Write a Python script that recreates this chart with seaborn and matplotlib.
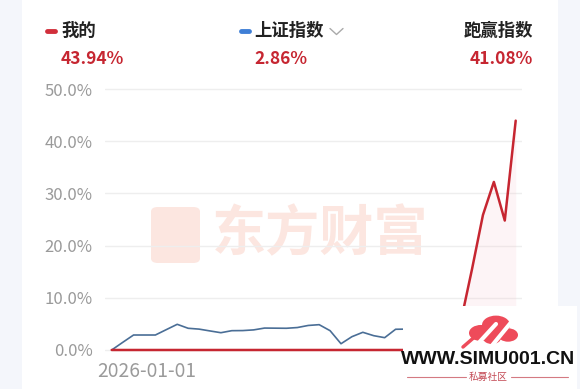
import numpy as np
import pandas as pd
import matplotlib
matplotlib.use("Agg")
import matplotlib.pyplot as plt
import matplotlib.transforms as mtransforms
from matplotlib.patches import Rectangle, FancyBboxPatch, Circle
from matplotlib.lines import Line2D
import seaborn as sns

# ---------------- data ----------------
my_returns = [0, 0, 0, 0, 0, 0, 0, 0, 0, 0,
              0, 0, 0, 0, 0, 0, 0, 0, 0, 0,
              0, 0, 0, 0, 0, 0, 0, 0, 0, 0,
              0, 0, 5.7, 15.5, 25.86, 32.2, 24.8, 43.94]
sh_index = [0, 1.45, 2.87, 2.87, 2.87, 3.9, 4.92, 4.16, 4.0, 3.65,
            3.31, 3.70, 3.72, 3.85, 4.2, 4.18, 4.16, 4.3, 4.7, 4.85,
            3.70, 1.2, 2.55, 3.39, 2.74, 2.36, 3.97, 4.0, 3.8, 3.5,
            3.9, 3.6, 3.2, 3.4, 3.0, 3.3, 3.1, 2.86]
y_ticks = [0, 10, 20, 30, 40, 50]
y_tick_labels = ["0.0%", "10.0%", "20.0%", "30.0%", "40.0%", "50.0%"]
x_tick_label = "2026-01-01"
legend_names = ["我的", "上证指数", "跑赢指数"]
legend_values = ["43.94%", "2.86%", "41.08%"]

RED = "#c62631"
BLUE = "#4a6e96"
GRAY = "#9a9a9a"

sns.set_theme(style="white")
plt.rcParams["font.family"] = ["Noto Sans CJK SC", "DejaVu Sans"]

W, H = 580, 389
fig = plt.figure(figsize=(W / 100, H / 100), dpi=100)
fig.patch.set_facecolor("#f4f6fb")

def fx(x):
    return x / W

def fy(y):
    return 1 - y / H

# white card (behind everything)
fig.patches.append(Rectangle((fx(22), 0), fx(558) - fx(22), 1, transform=fig.transFigure,
                             facecolor="white", edgecolor="none", zorder=-3))

# ---------------- center watermark (behind axes) ----------------
fig.patches.append(FancyBboxPatch((fx(151), fy(263)), fx(200) - fx(151), fy(207) - fy(263),
                                  boxstyle="round,pad=0,rounding_size=0.012",
                                  transform=fig.transFigure, facecolor="#fce6e0",
                                  edgecolor="none", zorder=-2))
fig.text(fx(320), fy(235), "东方财富", fontsize=39, fontweight="bold", color="#fce6e0",
         ha="center", va="center", zorder=-2)

ax = fig.add_axes([fx(105), fy(352.6), fx(522) - fx(105), fy(86.4) - fy(352.6)])
ax.set_facecolor("none")
ax.set_zorder(1)

n = len(my_returns)
df = pd.DataFrame({
    "idx": list(range(n)) * 2,
    "value": my_returns + sh_index,
    "series": ["我的"] * n + ["上证指数"] * n,
})

idx = np.arange(n)
ax.fill_between(idx, 0, my_returns, color="#f7c9d2", alpha=0.2, linewidth=0, zorder=1)

sns.lineplot(data=df[df.series == "上证指数"], x="idx", y="value", color=BLUE,
             linewidth=1.2, ax=ax, legend=False, zorder=3)
sns.lineplot(data=df[df.series == "我的"], x="idx", y="value", color=RED,
             linewidth=1.8, ax=ax, legend=False, zorder=4)
for ln in ax.lines:
    ln.set_clip_on(False)

step = (515.7 - 111.7) / (n - 1)
ax.set_xlim(-(111.7 - 105) / step, (n - 1) + (522 - 515.7) / step)
ax.set_ylim(-0.5, 50.5)

ax.set_yticks(y_ticks)
ax.set_yticklabels(y_tick_labels)
ax.yaxis.grid(True, color="#eeeeee", linewidth=1)
ax.xaxis.grid(False)
for s in ax.spines.values():
    s.set_visible(False)
ax.tick_params(axis="y", length=0, pad=9, labelsize=12, labelcolor=GRAY)
ax.set_xticks([0])
ax.set_xticklabels([x_tick_label])
ax.tick_params(axis="x", length=0, pad=6, labelsize=13.8, labelcolor=GRAY)
offset = mtransforms.ScaledTranslation(-14 / 100, 0, fig.dpi_scale_trans)
for lab in ax.get_xticklabels():
    lab.set_horizontalalignment("left")
    lab.set_transform(lab.get_transform() + offset)
ax.set_xlabel("")
ax.set_ylabel("")

# ---------------- header ----------------
fig.add_artist(Line2D([fx(47), fx(55)], [fy(31), fy(31)], color="#d12f3b", linewidth=3.5,
                      solid_capstyle="round", transform=fig.transFigure))
fig.add_artist(Line2D([fx(241), fx(249)], [fy(31), fy(31)], color="#3f7fd6", linewidth=3.5,
                      solid_capstyle="round", transform=fig.transFigure))
fig.text(fx(61), fy(31), legend_names[0], fontsize=12.5, fontweight="bold", color="#222222",
         ha="left", va="center")
fig.text(fx(254), fy(31), legend_names[1], fontsize=12.5, fontweight="bold", color="#222222",
         ha="left", va="center")
fig.text(fx(533), fy(31), legend_names[2], fontsize=12.5, fontweight="bold", color="#222222",
         ha="right", va="center")
fig.add_artist(Line2D([fx(330), fx(336.5), fx(343)], [fy(28.5), fy(34.5), fy(28.5)],
                      color="#aaaaaa", linewidth=1, transform=fig.transFigure))
fig.text(fx(61), fy(59), legend_values[0], fontsize=12.5, fontweight="bold", color=RED,
         ha="left", va="center")
fig.text(fx(254), fy(59), legend_values[1], fontsize=12.5, fontweight="bold", color=RED,
         ha="left", va="center")
fig.text(fx(533), fy(59), legend_values[2], fontsize=12.5, fontweight="bold", color=RED,
         ha="right", va="center")

# ---------------- bottom-right watermark ----------------
fig.patches.append(Rectangle((fx(403), 0), fx(577) - fx(403), fy(306), transform=fig.transFigure,
                             facecolor="white", edgecolor="none", zorder=5))
for (cx, cy, r) in [(481, 333, 12), (496, 325, 14), (508, 335, 10), (492, 338, 9)]:
    fig.patches.append(Circle((fx(cx), fy(cy)), r / W, transform=fig.transFigure,
                              facecolor="#ee4b5a", edgecolor="none", zorder=6))
fig.add_artist(Line2D([fx(474), fx(496)], [fy(348), fy(324)], color="white", linewidth=3,
                      transform=fig.transFigure, zorder=7))
fig.add_artist(Line2D([fx(490), fx(513)], [fy(348), fy(320)], color="white", linewidth=3,
                      transform=fig.transFigure, zorder=7))
fig.add_artist(Line2D([fx(463), fx(478)], [fy(347), fy(334)], color="#ee4b5a", linewidth=2.5,
                      transform=fig.transFigure, zorder=7))
fig.text(fx(488), fy(360), "WWW.SIMU001.CN", fontsize=14, fontweight="bold", color="#111111",
         ha="center", va="center", family=["Liberation Sans"], zorder=8)
fig.text(fx(488), fy(377), "私募社区", fontsize=7, color="#c44a55", ha="center", va="center",
         zorder=8)
fig.add_artist(Line2D([fx(407), fx(466)], [fy(377), fy(377)], color="#d47a82", linewidth=0.8,
                      transform=fig.transFigure, zorder=8))
fig.add_artist(Line2D([fx(511), fx(568)], [fy(377), fy(377)], color="#d47a82", linewidth=0.8,
                      transform=fig.transFigure, zorder=8))

fig.savefig("out.png", dpi=100, facecolor=fig.get_facecolor())
